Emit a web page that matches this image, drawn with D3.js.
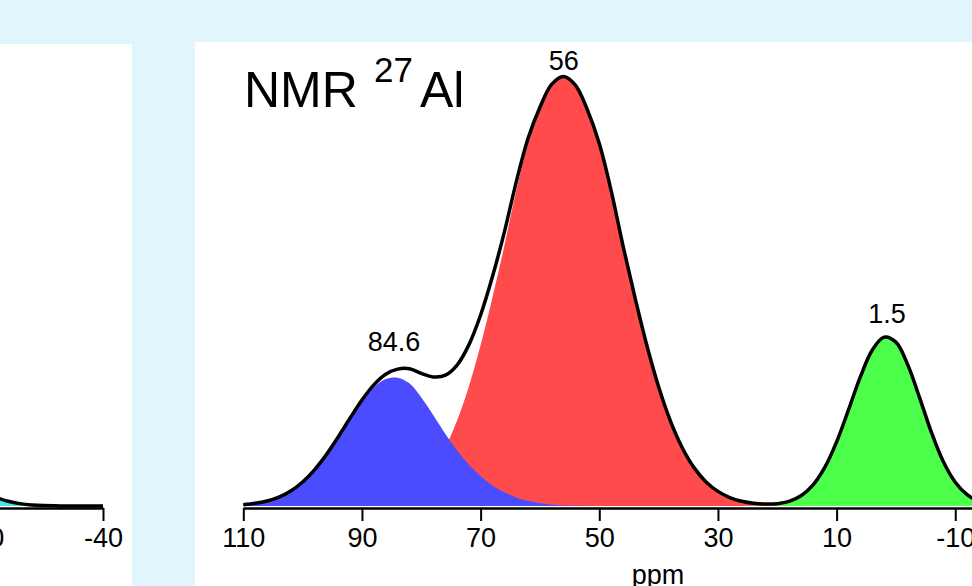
<!DOCTYPE html>
<html><head><meta charset="utf-8">
<script src="https://cdn.jsdelivr.net/npm/d3@7"></script>
<style>
body{margin:0;background:#e1f5fd;}
svg{display:block;}
text{font-family:"Liberation Sans",Arial,Helvetica,sans-serif;}
</style></head>
<body>
<svg id="c" width="972" height="586"></svg>
<script>
// ---- data (right panel, 27Al NMR) ----
const ppm = [110,108,106,104,102,100,98,96,94,92,90,88,86,84,82,80,78,76,74,72,70,68,66,64,62,60,58,56,54,52,50,48,46,44,42,40,38,36,34,32,30,28,26,24,22,20,18,16,14,12,10,8,6,4,2,0,-2,-4,-6,-8,-10,-12,-14,-16];
const bluePeak = [0.31,0.62,1.17,2.09,3.51,5.59,8.41,11.94,16.04,20.35,24.40,27.64,29.59,29.92,28.60,25.3,21.2,16.9,13.0,9.7,7.0,4.8,3.2,2.0,1.2,0.65,0.32,0.14,0.05,0.02,0,0,0,0,0,0,0,0,0,0,0,0,0,0,0,0,0,0,0,0,0,0,0,0,0,0,0,0,0,0,0,0,0,0];
const redPeak = [0,0,0,0,0,0.01,0.02,0.03,0.07,0.15,0.31,0.60,1.11,1.98,3.41,5.61,8.89,13.53,19.79,27.80,37.53,48.68,60.65,73.5,84.5,92.31,98.02,100,98.02,92.31,84.5,73.5,60.65,48.68,37.53,27.80,19.79,13.53,8.89,5.61,3.41,1.98,1.11,0.60,0.31,0.15,0.07,0.03,0.01,0,0,0,0,0,0,0,0,0,0,0,0,0,0,0];
const greenPeak = [0,0,0,0,0,0,0,0,0,0,0,0,0,0,0,0,0,0,0,0,0,0,0,0,0,0,0,0,0,0,0,0,0,0,0,0,0,0,0,0,0,0,0.01,0.04,0.14,0.40,1.02,2.34,4.84,8.98,14.96,22.39,30.09,36.32,39.37,38.2,32.9,25.2,17.1,10.3,5.53,2.63,1.11,0.42];
const xTicks = [110,90,70,50,30,10,-10];
const peakLabels = ["84.6","56","1.5"];
const peakPpm = [84.6,56,1.5];
const labelLevel = [36.2,101.6,42.6];
// ---- data (left panel, visible tail) ----
const ppmLeft = [-20,-22,-24,-26,-28,-30,-32,-34,-36,-38,-40];
const cyanPeak = [3.0,2.0,1.1,0.55,0.25,0.1,0.04,0.01,0,0,0];
const xTicksLeft = [-20,-40];

const svg = d3.select("#c");
svg.append("rect").attr("width",972).attr("height",586).attr("fill","#e1f5fd");
svg.append("rect").attr("x",0).attr("y",44).attr("width",132).attr("height",542).attr("fill","#fff");
svg.append("rect").attr("x",195).attr("y",42).attr("width",777).attr("height",544).attr("fill","#fff");

const defs = svg.append("defs");
defs.append("clipPath").attr("id","clipL").append("rect").attr("x",0).attr("y",0).attr("width",132).attr("height",586);
defs.append("clipPath").attr("id","clipR").append("rect").attr("x",195).attr("y",0).attr("width",777).attr("height",586);

const pxPerPpm = 5.933;
const y = d3.scaleLinear().domain([0,100]).range([506,77]);
const curve = d3.curveCatmullRom.alpha(0.5);
const fmt = d => String(d);

function styleAxis(g){
  g.select(".domain").attr("stroke","#000").attr("stroke-width",2.7);
  g.selectAll(".tick line").attr("stroke","#000").attr("stroke-width",2);
  g.selectAll(".tick text").attr("fill","#000").attr("font-size",27)
    .attr("font-family",'"Liberation Sans",Arial,sans-serif')
    .attr("dy",null).attr("y",38.7);
}

// ---- right panel ----
const R = svg.append("g").attr("clip-path","url(#clipR)");
const xR = d3.scaleLinear().domain([110,-14]).range([243.3, 243.3+124*pxPerPpm]);
const rows = ppm.map((p,i)=>({p, b:bluePeak[i], r:redPeak[i], g:greenPeak[i], s:bluePeak[i]+redPeak[i]+greenPeak[i]}));
const area = key => d3.area().x(d=>xR(d.p)).y0(y(0)).y1(d=>y(d[key])).curve(curve);
R.append("path").datum(rows).attr("d",area("r")).attr("fill","#ff4b4b");
R.append("path").datum(rows).attr("d",area("b")).attr("fill","#4b4bff");
R.append("path").datum(rows).attr("d",area("g")).attr("fill","#4bff4b");
R.append("path").datum(rows)
  .attr("d",d3.line().x(d=>xR(d.p)).y(d=>y(d.s)).curve(curve))
  .attr("fill","none").attr("stroke","#000").attr("stroke-width",3.5).attr("stroke-linejoin","round");

const axR = R.append("g").attr("transform","translate(0,508)")
  .call(d3.axisBottom(xR).tickValues(xTicks).tickSize(13).tickSizeOuter(0).tickFormat(fmt));
styleAxis(axR);

R.selectAll("text.pk").data(peakLabels).join("text").attr("class","pk")
  .attr("x",(d,i)=>xR(peakPpm[i])).attr("y",(d,i)=>y(labelLevel[i]))
  .attr("text-anchor","middle").attr("font-size",27).attr("fill","#000").text(d=>d);

R.append("text").attr("x",658).attr("y",584).attr("text-anchor","middle").attr("font-size",27).attr("fill","#000").text("ppm");

R.append("text").attr("x",244).attr("y",107).attr("font-size",50).attr("fill","#000").text("NMR");
R.append("text").attr("x",374).attr("y",82).attr("font-size",35).attr("fill","#000").text("27");
R.append("text").attr("x",420).attr("y",107).attr("font-size",50).attr("fill","#000").text("Al");

// ---- left panel ----
const L = svg.append("g").attr("clip-path","url(#clipL)");
const xL = d3.scaleLinear().domain([-20,-40]).range([103-20*pxPerPpm, 103]);
const rowsL = ppmLeft.map((p,i)=>({p, c:cyanPeak[i]}));
L.append("path").datum(rowsL)
  .attr("d",d3.area().x(d=>xL(d.p)).y0(y(0)).y1(d=>y(d.c)).curve(curve))
  .attr("fill","#44e5ec");
L.append("path").datum(rowsL)
  .attr("d",d3.line().x(d=>xL(d.p)).y(d=>y(d.c)).curve(curve))
  .attr("fill","none").attr("stroke","#000").attr("stroke-width",3.5);
const axL = L.append("g").attr("transform","translate(0,508)")
  .call(d3.axisBottom(xL).tickValues(xTicksLeft).tickSize(13).tickSizeOuter(0).tickFormat(fmt));
styleAxis(axL);
</script>
</body></html>
